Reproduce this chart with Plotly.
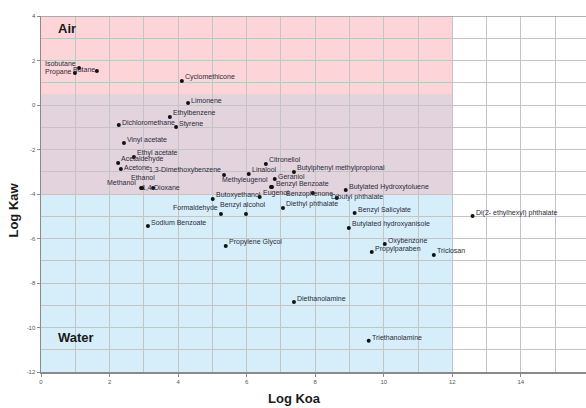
import plotly.graph_objects as go

names = ["Propane", "Isobutane", "Butane", "Cyclomethicone", "Limonene", "Ethylbenzene",
         "Styrene", "Dichloromethane", "Vinyl acetate", "Ethyl acetate", "Acetaldehyde",
         "Acetone", "Methanol", "Ethanol", "1,4-Dioxane", "1,3-Dimethoxybenzene", "Linalool",
         "Citronellol", "Butylphenyl methylpropional", "Geraniol", "Methyleugenol",
         "Benzyl Benzoate", "Butoxyethanol", "Eugenol", "Benzyl alcohol", "Formaldehyde",
         "Diethyl phthalate", "Benzophenone", "Dibutyl phthalate", "Butylated Hydroxytoluene",
         "Benzyl Salicylate", "Butylated hydroxyanisole", "Oxybenzone", "Propylparaben",
         "Triclosan", "Di(2- ethylhexyl) phthalate", "Sodium Benzoate", "Propylene Glycol",
         "Diethanolamine", "Triethanolamine"]
log_koa = [0.99, 1.11, 1.63, 4.11, 4.29, 3.76, 3.94, 2.27, 2.42, 2.71, 2.25, 2.33, 2.92, 2.95,
           3.27, 5.34, 6.06, 6.56, 7.38, 6.82, 6.71, 6.74, 5.01, 6.38, 5.98, 5.25, 7.06, 7.93,
           8.63, 8.89, 9.15, 8.98, 10.03, 9.65, 11.46, 12.59, 3.12, 5.39, 7.38, 9.56]
log_kaw = [1.44, 1.66, 1.53, 1.08, 0.09, -0.54, -0.99, -0.90, -1.71, -2.34, -2.61, -2.88,
           -3.73, -3.73, -3.73, -3.15, -3.10, -2.65, -3.01, -3.33, -3.69, -3.69, -4.22, -4.13,
           -4.90, -4.90, -4.63, -3.96, -4.18, -3.82, -4.85, -5.53, -6.25, -6.61, -6.74, -4.99,
           -5.44, -6.34, -8.85, -10.6]

# label placement style per point: (xanchor, x offset px, y offset px)
label_style = [("right", -2, 1), ("right", -2, 5), ("right", -1, 1), ("left", 2, 4),
               ("left", 2, 3), ("left", 2, 4), ("left", 2, 3), ("left", 2, 3),
               ("left", 2, 3), ("left", 2, 4), ("left", 2, 4), ("left", 2, 2),
               ("right", -4, 5), ("center", 1, 10), ("center", 8, 0), ("right", -2, 5),
               ("left", 2, 4), ("left", 2, 4), ("left", 2, 4), ("left", 2, 3),
               ("right", -2, 7), ("left", 3, 3), ("left", 2, 4), ("left", 2, 4),
               ("center", -3, 9), ("right", -2, 6), ("left", 2, 4), ("center", -3, -1),
               ("left", -7, 1), ("left", 2, 3), ("left", 2, 3), ("left", 2, 4),
               ("left", 2, 3), ("left", 2, 3), ("left", 2, 4), ("left", 2, 3),
               ("left", 2, 4), ("left", 2, 4), ("left", 2, 3), ("left", 2, 3)]

x_ticks = [0, 2, 4, 6, 8, 10, 12, 14]
y_ticks = [4, 2, 0, -2, -4, -6, -8, -10, -12]

label_font = dict(family="Liberation Sans Narrow, Arial Narrow, Liberation Sans, sans-serif",
                  size=7, color="#2b2b3a")
title_font = dict(family="Liberation Sans, Arial", size=13, color="#1a1a1a")

fig = go.Figure()
fig.add_trace(go.Scatter(
    x=log_koa, y=log_kaw, mode="markers",
    marker=dict(color="#111111", size=4),
    cliponaxis=False, hoverinfo="skip", showlegend=False))

for n, xv, yv, (anc, dx, dy) in zip(names, log_koa, log_kaw, label_style):
    fig.add_annotation(x=xv, y=yv, xref="x", yref="y", text=n, showarrow=False,
                       xanchor=anc, yanchor="middle", xshift=dx, yshift=dy,
                       font=label_font, borderpad=0)

# region rectangles
fig.add_shape(type="rect", xref="x", yref="y", x0=0, x1=12, y0=0.5, y1=4,
              fillcolor="#fdd5d9", line_width=0, layer="below")
fig.add_shape(type="rect", xref="x", yref="y", x0=0, x1=12, y0=-4, y1=0.5,
              fillcolor="#e2d3dd", line_width=0, layer="below")
fig.add_shape(type="rect", xref="x", yref="y", x0=0, x1=12, y0=-12, y1=-4,
              fillcolor="#d6eef9", line_width=0, layer="below")

fig.add_annotation(x=0.45, y=3.46, xref="x", yref="y", text="<b>Air</b>", showarrow=False,
                   xanchor="left", font=title_font)
fig.add_annotation(x=0.45, y=-10.43, xref="x", yref="y", text="<b>Water</b>", showarrow=False,
                   xanchor="left", font=title_font)
fig.add_annotation(x=0.465, y=0, xref="paper", yref="paper", yanchor="top", yshift=-17,
                   text="<b>Log Koa</b>", showarrow=False, font=title_font)
fig.add_annotation(x=0, y=0.455, xref="paper", yref="paper", xanchor="right", xshift=-18,
                   text="<b>Log Kaw</b>", showarrow=False, textangle=-90, font=title_font)

axis_common = dict(showgrid=True, gridcolor="#c4c4c4", gridwidth=1, zeroline=False,
                   showline=True, linecolor="#8a8a8a", linewidth=1.5,
                   ticks="outside", ticklen=3, tickcolor="#8a8a8a",
                   tickfont=dict(family="Liberation Sans, Arial", size=6, color="#555555"),
                   minor=dict(showgrid=True, gridcolor="#c4c4c4", gridwidth=1, dtick=1, tick0=0))

fig.update_xaxes(range=[0, 15.9], tickvals=x_ticks, ticktext=[str(v) for v in x_ticks],
                 automargin=False, **axis_common)
fig.update_yaxes(range=[-12, 4], tickvals=y_ticks, ticktext=[str(v) for v in y_ticks],
                 automargin=False, **axis_common)

fig.add_shape(type="line", xref="paper", yref="y", x0=0, x1=1, y0=4, y1=4,
              line=dict(color="#9a9a9a", width=1.5))

fig.update_layout(width=586, height=408, margin=dict(l=41, r=0, t=16, b=36),
                  plot_bgcolor="white", paper_bgcolor="white", hovermode=False)

# remove the default page margin so the figure fills the window exactly
fig.write_html("out.html", config={"displayModeBar": False, "staticPlot": True},
               post_script="document.body.style.margin='0';document.body.style.overflow='hidden';")
